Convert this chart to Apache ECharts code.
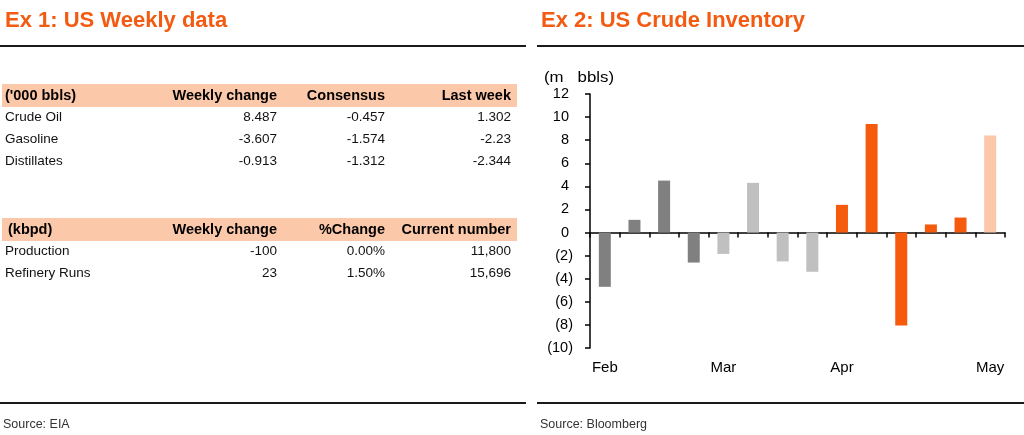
<!DOCTYPE html>
<html>
<head>
<meta charset="utf-8">
<script src="https://cdn.jsdelivr.net/npm/echarts@6/dist/echarts.min.js"></script>
<style>
  html, body { margin: 0; padding: 0; background: #fff; }
  #main { width: 1024px; height: 435px; }
</style>
</head>
<body>
<div id="main"></div>
<script>
// ============================================================================
// Data
// ============================================================================

// Ex 1 - weekly stocks table ('000 bbls)
const stockHeader = ["('000 bbls)", 'Weekly change', 'Consensus', 'Last week']
const stockRows = ['Crude Oil', 'Gasoline', 'Distillates']
const stockWeekly = ['8.487', '-3.607', '-0.913']
const stockConsensus = ['-0.457', '-1.574', '-1.312']
const stockLastWeek = ['1.302', '-2.23', '-2.344']

// Ex 1 - flows table (kbpd)
const flowHeader = ['(kbpd)', 'Weekly change', '%Change', 'Current number']
const flowRows = ['Production', 'Refinery Runs']
const flowWeekly = ['-100', '23']
const flowPctChange = ['0.00%', '1.50%']
const flowCurrent = ['11,800', '15,696']

// Ex 2 - weekly crude inventory change (m bbls)
const weekLabels = ['Feb', '', '', '', 'Mar', '', '', '', 'Apr', '', '', '', '', 'May']
const weekGroup = ['Feb', 'Feb', 'Feb', 'Feb', 'Mar', 'Mar', 'Mar', 'Mar', 'Apr', 'Apr', 'Apr', 'Apr', 'Apr', 'Latest']
const inventoryChange = [-4.7, 1.1, 4.5, -2.6, -1.85, 4.3, -2.5, -3.4, 2.4, 9.4, -8.05, 0.7, 1.3, 8.4]

// ============================================================================
// Styles
// ============================================================================

const FONT = "'Liberation Sans', Arial, sans-serif"
const ORANGE_TITLE = '#F35B12'
const HEADER_FILL = '#FCC8AA'
const groupColors = {
    Feb: '#808080',
    Mar: '#C0C0C0',
    Apr: '#F55A0D',
    Latest: '#FCC8AA',
}

// ============================================================================
// Helpers
// ============================================================================

const colRight = [277, 385, 511]

function text(x, y, str, opts, extra) {
    return {
        type: 'text',
        x: x,
        y: y,
        silent: true,
        ...extra,
        style: {
            text: str,
            fontFamily: FONT,
            fontSize: 13.5,
            fill: '#111',
            align: 'left',
            verticalAlign: 'middle',
            ...opts,
        },
    }
}

function line(x1, x2, y) {
    return {
        type: 'line',
        silent: true,
        shape: {x1: x1, y1: y, x2: x2, y2: y},
        style: {stroke: '#1a1a1a', lineWidth: 2},
    }
}

function buildTable(top, header, labelX, labels, columns) {
    const els = []
    els.push({
        type: 'rect',
        silent: true,
        shape: {x: 2, y: top, width: 515, height: 23},
        style: {fill: HEADER_FILL},
    })
    const headY = top + 11.5
    els.push(text(labelX, headY, header[0], {fontWeight: 'bold', fontSize: 14.5, fill: '#000'}))
    for (let c = 0; c < 3; c++) {
        els.push(text(colRight[c], headY, header[c + 1], {fontWeight: 'bold', fontSize: 14.5, fill: '#000', align: 'right'}))
    }
    labels.forEach((lab, r) => {
        const y = top + 33 + r * 22.3
        els.push(text(5, y, lab))
        columns.forEach((col, c) => {
            els.push(text(colRight[c], y, col[r], {align: 'right'}))
        })
    })
    return els
}

function buildSeries() {
    const groups = [...new Set(weekGroup)]
    return groups.map(g => ({
        name: g,
        type: 'bar',
        xAxisIndex: 0,
        barWidth: 12,
        barGap: '-100%',
        itemStyle: {color: groupColors[g]},
        data: inventoryChange.map((v, i) => (weekGroup[i] === g ? v : null)),
    }))
}

// ============================================================================
// Render
// ============================================================================

function main() {
    const chart = echarts.init(document.getElementById('main'), null, {renderer: 'canvas'})

    const graphics = [
        text(5, 21, 'Ex 1: US Weekly data', {fontSize: 22, fontWeight: 'bold', fill: ORANGE_TITLE}),
        text(541, 21, 'Ex 2: US Crude Inventory', {fontSize: 22, fontWeight: 'bold', fill: ORANGE_TITLE}),
        line(0, 526, 46),
        line(537, 1024, 46),
        line(0, 526, 403),
        line(537, 1024, 403),
        text(3, 425, 'Source: EIA', {fontSize: 12.5, fill: '#333'}),
        text(540, 425, 'Source: Bloomberg', {fontSize: 12.5, fill: '#333'}),
        text(544, 78, '(m   bbls)', {fontSize: 14, fill: '#000'}, {scaleX: 1.2}),
        ...buildTable(84, stockHeader, 5, stockRows, [stockWeekly, stockConsensus, stockLastWeek]),
        ...buildTable(218, flowHeader, 8, flowRows, [flowWeekly, flowPctChange, flowCurrent]),
    ]

    const option = {
        animation: false,
        backgroundColor: '#fff',
        textStyle: {fontFamily: FONT},
        grid: {left: 590, right: 19, top: 94, bottom: 87, containLabel: false, outerBoundsMode: 'none'},
        xAxis: [
            {
                type: 'category',
                data: weekLabels,
                position: 'bottom',
                axisLine: {onZero: true, lineStyle: {color: '#000', width: 1.5}},
                axisTick: {show: true, interval: 0, length: 5, lineStyle: {color: '#000', width: 1.5}},
                axisLabel: {show: false},
                splitLine: {show: false},
            },
            {
                type: 'category',
                data: weekLabels,
                position: 'bottom',
                axisLine: {show: false, onZero: false},
                axisTick: {show: false},
                axisLabel: {interval: 0, margin: 12, fontSize: 15, color: '#000', fontFamily: FONT},
                splitLine: {show: false},
            },
        ],
        yAxis: {
            type: 'value',
            min: -10,
            max: 12,
            interval: 2,
            axisLine: {show: true, lineStyle: {color: '#000', width: 1.5}},
            axisTick: {show: true, length: 5, lineStyle: {color: '#000', width: 1.5}},
            splitLine: {show: false},
            axisLabel: {
                margin: 17,
                fontSize: 14.5,
                color: '#000',
                fontFamily: FONT,
                formatter: v => (v < 0 ? '(' + Math.abs(v) + ')' : v + ' '),
            },
        },
        series: buildSeries(),
        graphic: graphics,
    }
    chart.setOption(option)
}

document.addEventListener('DOMContentLoaded', main)
</script>
</body>
</html>
